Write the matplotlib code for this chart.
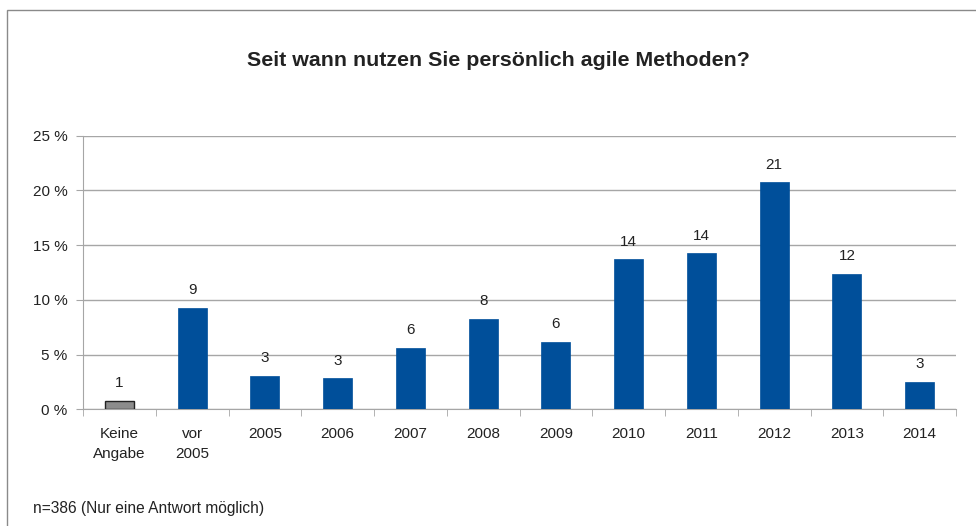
import matplotlib
matplotlib.use("Agg")
import matplotlib.pyplot as plt
from matplotlib.patches import Rectangle
import numpy as np

plt.rcParams['font.family'] = ['Liberation Sans', 'DejaVu Sans']

categories = ["Keine\nAngabe", "vor\n2005", "2005", "2006", "2007", "2008", "2009",
              "2010", "2011", "2012", "2013", "2014"]
values = [0.76, 9.29, 3.07, 2.83, 5.63, 8.25, 6.18, 13.7, 14.26, 20.75, 12.4, 2.52]
labels = ["1", "9", "3", "3", "6", "8", "6", "14", "14", "21", "12", "3"]
yticks = [0, 5, 10, 15, 20, 25]

blue = "#004f9a"
gray = "#8c8c8c"
gridc = "#a6a6a6"

fig = plt.figure(figsize=(9.76, 5.26), dpi=100)
# outer frame
fig.patches.append(Rectangle((7/976, -0.01), 1.2, (526-10)/526 + 0.01, transform=fig.transFigure,
                             fill=False, edgecolor="#8a8a8a", linewidth=1.0))

ax = fig.add_axes([83/976, 1-409.3/526, (956-83)/976, (409.3-135.7)/526])
x = np.arange(len(categories))
colors = [gray] + [blue] * (len(categories) - 1)
edges = ["#222222"] + [blue] * (len(categories) - 1)
bars = ax.bar(x, values, width=0.4, color=colors, edgecolor=edges, linewidth=[1.0] + [0.5]*11, zorder=3)
for xi, v, lab in zip(x, values, labels):
    ax.annotate(lab, (xi, v), xytext=(0, 12.7), textcoords="offset points",
                ha="center", va="center", fontsize=11, color="#222222")

ax.set_xlim(-0.5, len(categories) - 0.5)
ax.set_ylim(0, 25)
ax.set_yticks(yticks)
ax.set_yticklabels([f"{t} %" for t in yticks], fontsize=11, color="#222222")
ax.yaxis.grid(True, color=gridc, linewidth=1.0, zorder=0)
ax.set_xticks(x)
ax.set_xticklabels(categories, fontsize=11, color="#222222", linespacing=1.5)
ax.set_xticks(np.arange(-0.5, len(categories)), minor=True)
ax.tick_params(axis="x", which="major", length=0, pad=13)
ax.tick_params(axis="x", which="minor", length=5, color=gridc, direction="out")
ax.tick_params(axis="y", length=5, color=gridc, direction="out", pad=6)
for s in ["top", "right"]:
    ax.spines[s].set_visible(False)
ax.spines["left"].set_color(gridc)
ax.spines["bottom"].set_color(gridc)

fig.text(498/976, 1-60/526, "Seit wann nutzen Sie persönlich agile Methoden?",
         ha="center", va="center", fontsize=15.4, fontweight="bold", color="#222222")
fig.text(33/976, 1-508/526, "n=386 (Nur eine Antwort möglich)", ha="left", va="center",
         fontsize=11.2, color="#222222")

fig.savefig("out.png", dpi=100)
